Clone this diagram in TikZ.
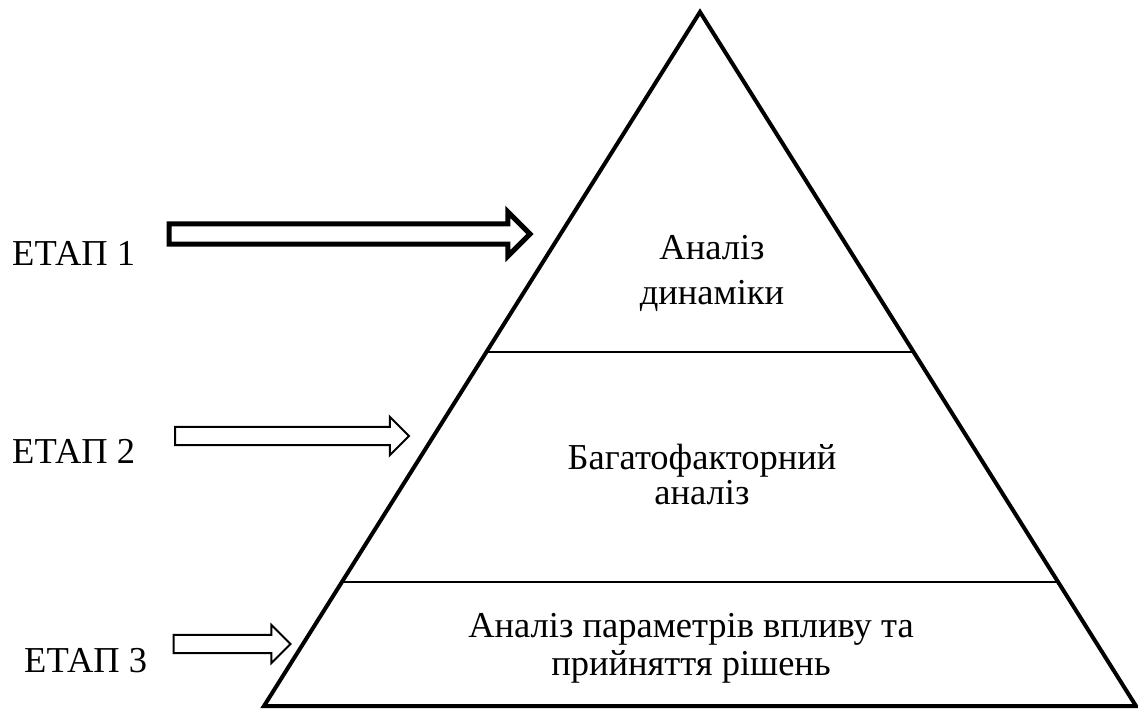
\documentclass[tikz,border=0pt]{standalone}
\usepackage{fontspec}
\setmainfont{Liberation Serif}
\newfontfamily\timesfont{Liberation Serif}
\usetikzlibrary{shapes.arrows, positioning, calc}

\begin{document}
\begin{tikzpicture}[x=1pt,y=-1pt,
            stagetext/.style={font=\timesfont\fontsize{36.5}{42}\selectfont, inner sep=0pt, anchor=base west},
            leveltext/.style={align=center, inner sep=0pt},
            stagearrow/.style={single arrow, draw, fill=white, inner xsep=0pt,
                single arrow head extend=10pt, single arrow tip angle=90,
                single arrow head indent=0pt, outer sep=0pt, anchor=tip},
            pyramid/.style={line width=4pt, line join=miter},
            divider/.style={line width=1.5pt}]
            \useasboundingbox (0,0) rectangle (1138,710);

            % Define the pyramid corners
            \coordinate (top) at (700,12);
            \coordinate (bl)  at (264,706);
            \coordinate (br)  at (1136,706);
            \draw[pyramid] (top) -- (bl) -- (br) -- cycle;

            % Divide the pyramid into levels
            \coordinate (d1l) at ($(top)!0.49!(bl)$);
            \coordinate (d1r) at ($(top)!0.49!(br)$);
            \coordinate (d2l) at ($(top)!0.8213!(bl)$);
            \coordinate (d2r) at ($(top)!0.8213!(br)$);
            \draw[divider] (d1l) -- (d1r);
            \draw[divider] (d2l) -- (d2r);

            % Texts of the levels
            \node[leveltext, font=\timesfont\fontsize{36.5}{45}\selectfont] (L1) at (712,273)
                {Аналіз\\динаміки};
            \node[leveltext, font=\timesfont\fontsize{36.5}{35}\selectfont] (L2) at (702,475)
                {Багатофакторний\\аналіз};
            \node[leveltext, font=\timesfont\fontsize{36.5}{38}\selectfont] (L3) at (691,648)
                {Аналіз параметрів впливу та\\прийняття рішень};

            % Stages on the left
            \node[stagetext] (E1) at (12,265) {ЕТАП 1};
            \node[stagetext] (E2) at (12,463) {ЕТАП 2};
            \node[stagetext] (E3) at (24,672) {ЕТАП 3};

            % Arrows pointing to the levels
            \node[stagearrow, line width=5pt, inner ysep=7.6pt, minimum height=361pt,
                single arrow head extend=12pt] (A1) at (530,234) {};
            \node[stagearrow, line width=2pt, inner ysep=8.1pt, minimum height=234pt] (A2) at (409,436) {};
            \node[stagearrow, line width=2pt, inner ysep=8.1pt, minimum height=117pt] (A3) at (290.5,644) {};

        \end{tikzpicture}
\end{document}
